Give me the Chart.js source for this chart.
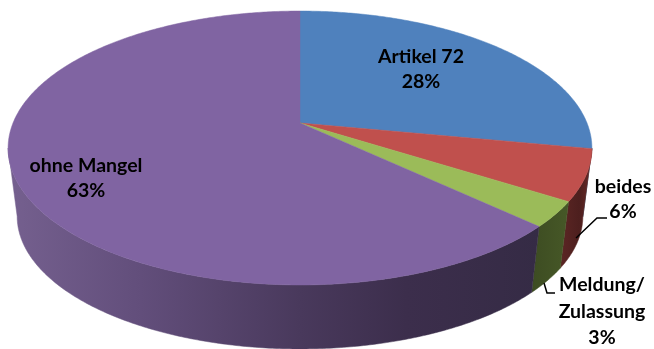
<!DOCTYPE html>
<html lang="de">
<head>
<meta charset="utf-8">
<style>html,body{margin:0;padding:0;background:#fff}canvas{display:block}</style>
<script src="https://cdn.jsdelivr.net/npm/chart.js@4"></script>
</head>
<body>
<canvas id="pie" width="654" height="349"></canvas>
<script>
// Anteile der Prüfergebnisse in Prozent
const categories = ['Artikel 72', 'beides', 'Meldung/Zulassung', 'ohne Mangel'];
const shares = [28, 6, 3, 63];
const faceColors = ['#4f81bd', '#c0504d', '#9bbb59', '#8064a2'];

// Mantelflächen: [Position über die Breite, Farbe]
const wallShades = [
  [[0, '#2c4560'], [1, '#2c4560']],
  [[0, '#5c2624'], [0.6, '#4d1f1e'], [1, '#6a2a28']],
  [[0, '#3d4c22'], [1, '#465827']],
  [[0, '#75608f'], [0.25, '#624e7b'], [0.55, '#49395c'], [0.75, '#3c2e4c'], [1, '#352b45']]
];

// Perspektive der Kreisscheibe
const view = { cx: 300, cy: 123, cyBase: 192, a: 287, b: 132.4, tilt: -0.1825, baseScale: 0.969 };

function project(t, base) {
  const u = Math.cos(t), v = Math.sin(t), w = 1 + view.tilt * v;
  const s = base ? view.baseScale : 1;
  return [view.cx + s * view.a * u / w, (base ? view.cyBase : view.cy) + s * view.b * v / w];
}

function arcPoints(t0, t1, base) {
  const n = Math.max(2, Math.ceil(Math.abs(t1 - t0) / 0.01));
  const pts = [];
  for (let i = 0; i <= n; i++) pts.push(project(t0 + (t1 - t0) * i / n, base));
  return pts;
}

function fillPolygon(ctx, pts, fill) {
  ctx.beginPath();
  pts.forEach((p, i) => i ? ctx.lineTo(p[0], p[1]) : ctx.moveTo(p[0], p[1]));
  ctx.closePath();
  ctx.fillStyle = fill;
  ctx.fill();
  ctx.strokeStyle = fill;
  ctx.lineWidth = 0.5;
  ctx.stroke();
}

// Sichtbarer Mantelbereich zwischen den äußersten Punkten der Ellipse
const wallFrom = Math.asin(-view.tilt);
const wallTo = Math.PI - wallFrom;

const pie3d = {
  id: 'pie3d',
  beforeDatasetsDraw(chart) {
    const ctx = chart.ctx;
    const arcs = chart.getDatasetMeta(0).data;
    ctx.save();
    arcs.forEach((arc, i) => {
      const t0 = Math.max(arc.startAngle, wallFrom);
      const t1 = Math.min(arc.endAngle, wallTo);
      if (t1 <= t0) return;
      const pts = arcPoints(t0, t1, false).concat(arcPoints(t1, t0, true));
      const xs = pts.map(p => p[0]);
      const g = ctx.createLinearGradient(Math.min(...xs), 0, Math.max(...xs), 0);
      wallShades[i].forEach(s => g.addColorStop(s[0], s[1]));
      fillPolygon(ctx, pts, g);
    });
    arcs.forEach(arc => {
      const pts = [[view.cx, view.cy]].concat(arcPoints(arc.startAngle, arc.endAngle, false));
      fillPolygon(ctx, pts, arc.options.backgroundColor);
    });
    ctx.restore();
    return false;
  }
};

// Beschriftungen: Textzeilen mit Mittelpunkt, dazu die Führungslinien
const labelLayout = [
  { x: 421, y: 57, lines: [categories[0], shares[0] + '%'] },
  { x: 623, y: 187, lines: [categories[1], shares[1] + '%'] },
  { x: 602, y: 285, lines: ['Meldung/', 'Zulassung', shares[2] + '%'] },
  { x: 86, y: 166, lines: [categories[3], shares[3] + '%'] }
];
const leaders = [
  [[576, 238], [597, 218], [607, 218]],
  [[544, 283], [547, 293], [555, 293]]
];

const pieLabels = {
  id: 'pieLabels',
  afterDraw(chart) {
    const ctx = chart.ctx;
    ctx.save();
    ctx.strokeStyle = '#000';
    ctx.lineWidth = 1.5;
    leaders.forEach(line => {
      ctx.beginPath();
      line.forEach((p, i) => i ? ctx.lineTo(p[0], p[1]) : ctx.moveTo(p[0], p[1]));
      ctx.stroke();
    });
    ctx.fillStyle = '#000';
    ctx.font = 'bold 19.5px Lato';
    ctx.textAlign = 'center';
    ctx.textBaseline = 'middle';
    labelLayout.forEach(l => l.lines.forEach((text, i) => {
      ctx.fillText(text, l.x, l.y + i * (l.lines.length === 3 ? 26.5 : 25));
    }));
    ctx.restore();
  }
};

new Chart(document.getElementById('pie'), {
  type: 'pie',
  data: {
    labels: categories,
    datasets: [{ data: shares, backgroundColor: faceColors, borderWidth: 0 }]
  },
  options: {
    responsive: false,
    animation: false,
    rotation: 0,
    plugins: { legend: { display: false }, tooltip: { enabled: false } }
  },
  plugins: [pie3d, pieLabels]
});
</script>
</body>
</html>
